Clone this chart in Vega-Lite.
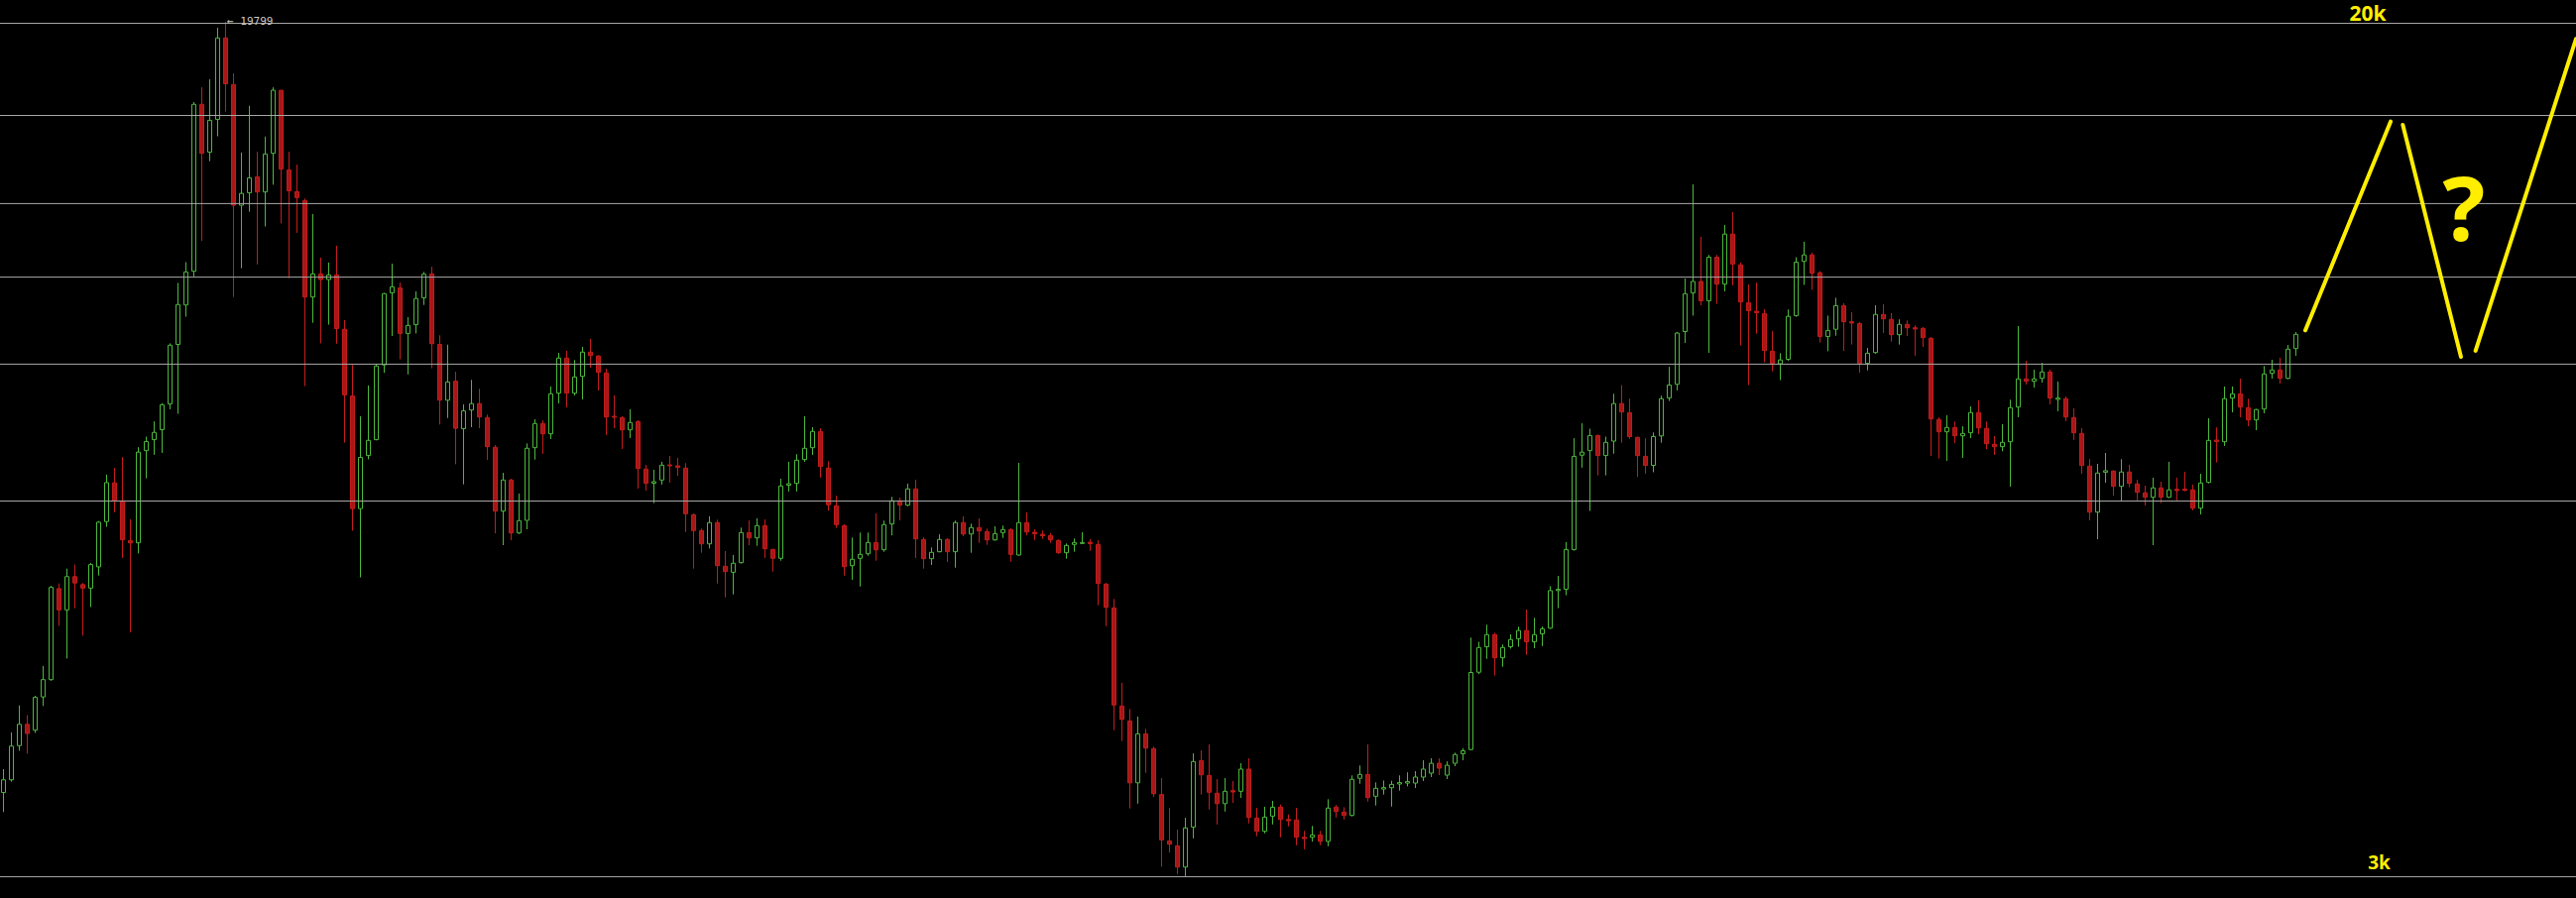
{
  "$schema": "https://vega.github.io/schema/vega-lite/v6.json",
  "width": 2598,
  "height": 906,
  "autosize": {"type": "none"},
  "padding": 0,
  "background": "#000000",
  "config": {"view": {"stroke": null}, "axis": {"disable": true}, "scale": {"continuousPadding": 0}},
  "datasets": {
    "candles": [
      {"t":0,"o":3741,"h":3935,"l":3586,"c":3845},{"t":1,"o":3845,"h":4260,"l":3830,"c":4136},{"t":2,"o":4140,"h":4516,"l":4094,"c":4335},{"t":3,"o":4335,"h":4422,"l":4069,"c":4250},{"t":4,"o":4281,"h":4611,"l":4255,"c":4595},
      {"t":5,"o":4600,"h":4918,"l":4510,"c":4775},{"t":6,"o":4775,"h":5849,"l":4763,"c":5828},{"t":7,"o":5813,"h":5878,"l":5364,"c":5552},{"t":8,"o":5552,"h":6070,"l":4998,"c":5966},{"t":9,"o":5966,"h":6123,"l":5573,"c":5885},
      {"t":10,"o":5864,"h":5885,"l":5251,"c":5820},{"t":11,"o":5820,"h":6146,"l":5586,"c":6123},{"t":12,"o":6093,"h":6728,"l":5980,"c":6711},{"t":13,"o":6720,"h":7438,"l":6645,"c":7310},{"t":14,"o":7307,"h":7549,"l":6854,"c":7034},
      {"t":15,"o":7014,"h":7725,"l":6211,"c":6461},{"t":16,"o":6449,"h":6754,"l":5289,"c":6418},{"t":17,"o":6418,"h":7893,"l":6273,"c":7809},{"t":18,"o":7834,"h":8075,"l":7379,"c":7990},{"t":19,"o":8022,"h":8345,"l":7763,"c":8149},
      {"t":20,"o":8196,"h":8681,"l":7795,"c":8651},{"t":21,"o":8666,"h":9880,"l":8566,"c":9840},{"t":22,"o":9857,"h":11258,"l":8484,"c":10744},{"t":23,"o":10734,"h":11776,"l":10464,"c":11529},{"t":24,"o":11546,"h":16646,"l":11416,"c":16564},
      {"t":25,"o":16564,"h":17185,"l":12328,"c":14900},{"t":26,"o":14938,"h":17486,"l":14647,"c":16001},{"t":27,"o":16029,"h":19547,"l":15459,"c":19120},{"t":28,"o":19120,"h":19799,"l":16307,"c":17315},{"t":29,"o":17286,"h":17717,"l":10920,"c":13317},
      {"t":30,"o":13317,"h":14926,"l":11622,"c":13662},{"t":31,"o":13682,"h":16511,"l":13133,"c":14128},{"t":32,"o":14162,"h":14951,"l":11718,"c":13706},{"t":33,"o":13706,"h":15449,"l":12720,"c":14878},{"t":34,"o":14900,"h":17185,"l":13922,"c":17075},
      {"t":35,"o":17075,"h":17075,"l":12803,"c":14398},{"t":36,"o":14373,"h":14951,"l":11376,"c":13738},{"t":37,"o":13717,"h":14541,"l":12545,"c":13539},{"t":38,"o":13449,"h":13515,"l":9006,"c":10920},{"t":39,"o":10920,"h":13069,"l":10328,"c":11480},
      {"t":40,"o":11480,"h":11892,"l":9880,"c":11340},{"t":41,"o":11340,"h":11766,"l":10286,"c":11453},{"t":42,"o":11453,"h":12200,"l":9872,"c":10200},{"t":43,"o":10185,"h":10388,"l":7971,"c":8838},{"t":44,"o":8816,"h":9430,"l":6589,"c":6911},
      {"t":45,"o":6911,"h":8440,"l":5956,"c":7719},{"t":46,"o":7752,"h":9019,"l":7688,"c":8010},{"t":47,"o":8022,"h":9454,"l":8010,"c":9407},{"t":48,"o":9430,"h":11019,"l":9269,"c":11000},{"t":49,"o":11019,"h":11738,"l":10036,"c":11164},
      {"t":50,"o":11137,"h":11265,"l":9545,"c":10094},{"t":51,"o":10094,"h":10455,"l":9237,"c":10269},{"t":52,"o":10286,"h":11055,"l":10094,"c":10885},{"t":53,"o":10901,"h":11529,"l":10734,"c":11472},{"t":54,"o":11480,"h":11660,"l":9361,"c":9872},
      {"t":55,"o":9857,"h":10053,"l":8289,"c":8737},{"t":56,"o":8737,"h":9851,"l":8406,"c":9088},{"t":57,"o":9103,"h":9291,"l":7607,"c":8222},{"t":58,"o":8215,"h":8658,"l":7283,"c":8539},{"t":59,"o":8553,"h":9129,"l":8242,"c":8672},
      {"t":60,"o":8672,"h":8954,"l":8224,"c":8425},{"t":61,"o":8415,"h":8469,"l":7679,"c":7901},{"t":62,"o":7891,"h":7930,"l":6552,"c":6874},{"t":63,"o":6874,"h":7468,"l":6386,"c":7352},{"t":64,"o":7352,"h":7373,"l":6455,"c":6557},
      {"t":65,"o":6557,"h":7140,"l":6542,"c":6734},{"t":66,"o":6738,"h":7959,"l":6609,"c":7874},{"t":67,"o":7884,"h":8384,"l":7684,"c":8307},{"t":68,"o":8307,"h":8366,"l":7779,"c":8124},{"t":69,"o":8124,"h":8998,"l":8033,"c":8859},
      {"t":70,"o":8871,"h":9679,"l":8677,"c":9570},{"t":71,"o":9570,"h":9721,"l":8603,"c":8871},{"t":72,"o":8871,"h":9529,"l":8827,"c":9187},{"t":73,"o":9199,"h":9804,"l":8752,"c":9694},{"t":74,"o":9694,"h":9974,"l":9373,"c":9623},
      {"t":75,"o":9611,"h":9631,"l":8922,"c":9279},{"t":76,"o":9267,"h":9353,"l":8102,"c":8425},{"t":77,"o":8438,"h":8827,"l":8224,"c":8420},{"t":78,"o":8415,"h":8438,"l":7863,"c":8194},{"t":79,"o":8194,"h":8566,"l":8050,"c":8325},
      {"t":80,"o":8343,"h":8366,"l":7217,"c":7538},{"t":81,"o":7528,"h":7597,"l":7186,"c":7299},{"t":82,"o":7302,"h":7517,"l":6993,"c":7326},{"t":83,"o":7352,"h":7647,"l":7279,"c":7592},{"t":84,"o":7597,"h":7745,"l":7310,"c":7581},
      {"t":85,"o":7581,"h":7712,"l":7420,"c":7554},{"t":86,"o":7544,"h":7625,"l":6571,"c":6835},{"t":87,"o":6820,"h":6840,"l":6070,"c":6591},{"t":88,"o":6591,"h":6619,"l":6282,"c":6404},{"t":89,"o":6404,"h":6796,"l":6341,"c":6705},
      {"t":90,"o":6705,"h":6748,"l":5878,"c":6109},{"t":91,"o":6101,"h":6305,"l":5704,"c":6031},{"t":92,"o":6023,"h":6251,"l":5741,"c":6141},{"t":93,"o":6149,"h":6633,"l":6136,"c":6562},{"t":94,"o":6562,"h":6738,"l":6386,"c":6487},
      {"t":95,"o":6487,"h":6767,"l":6377,"c":6662},{"t":96,"o":6662,"h":6752,"l":6211,"c":6336},{"t":97,"o":6328,"h":6332,"l":6031,"c":6207},{"t":98,"o":6207,"h":7373,"l":6175,"c":7258},{"t":99,"o":7271,"h":7647,"l":7171,"c":7294},
      {"t":100,"o":7299,"h":7774,"l":7171,"c":7674},{"t":101,"o":7684,"h":8438,"l":7647,"c":7874},{"t":102,"o":7884,"h":8242,"l":7762,"c":8166},{"t":103,"o":8166,"h":8224,"l":7389,"c":7570},{"t":104,"o":7544,"h":7658,"l":6880,"c":6969},
      {"t":105,"o":6954,"h":7109,"l":6628,"c":6676},{"t":106,"o":6662,"h":6681,"l":5979,"c":6096},{"t":107,"o":6109,"h":6492,"l":5925,"c":6194},{"t":108,"o":6207,"h":6562,"l":5840,"c":6260},{"t":109,"o":6268,"h":6562,"l":6242,"c":6423},
      {"t":110,"o":6423,"h":6840,"l":6175,"c":6323},{"t":111,"o":6323,"h":6734,"l":6296,"c":6676},{"t":112,"o":6685,"h":7089,"l":6524,"c":7029},{"t":113,"o":7029,"h":7079,"l":6738,"c":6963},{"t":114,"o":6963,"h":7294,"l":6948,"c":7212},
      {"t":115,"o":7212,"h":7357,"l":6211,"c":6473},{"t":116,"o":6465,"h":6496,"l":6070,"c":6202},{"t":117,"o":6202,"h":6355,"l":6118,"c":6287},{"t":118,"o":6296,"h":6538,"l":6287,"c":6465},{"t":119,"o":6465,"h":6483,"l":6158,"c":6296},
      {"t":120,"o":6296,"h":6734,"l":6083,"c":6705},{"t":121,"o":6705,"h":6796,"l":6510,"c":6542},{"t":122,"o":6542,"h":6690,"l":6282,"c":6633},{"t":123,"o":6633,"h":6767,"l":6418,"c":6585},{"t":124,"o":6576,"h":6619,"l":6390,"c":6459},
      {"t":125,"o":6459,"h":6652,"l":6448,"c":6548},{"t":126,"o":6562,"h":6662,"l":6487,"c":6605},{"t":127,"o":6605,"h":6623,"l":6162,"c":6260},{"t":128,"o":6251,"h":7630,"l":6242,"c":6705},{"t":129,"o":6705,"h":6854,"l":6524,"c":6571},
      {"t":130,"o":6567,"h":6609,"l":6459,"c":6545},{"t":131,"o":6538,"h":6591,"l":6473,"c":6517},{"t":132,"o":6520,"h":6557,"l":6418,"c":6459},{"t":133,"o":6451,"h":6465,"l":6268,"c":6282},{"t":134,"o":6282,"h":6409,"l":6202,"c":6382},
      {"t":135,"o":6396,"h":6478,"l":6296,"c":6423},{"t":136,"o":6409,"h":6567,"l":6400,"c":6423},{"t":137,"o":6427,"h":6469,"l":6309,"c":6407},{"t":138,"o":6396,"h":6455,"l":5607,"c":5878},{"t":139,"o":5870,"h":5886,"l":5361,"c":5583},
      {"t":140,"o":5576,"h":5685,"l":4280,"c":4520},{"t":141,"o":4510,"h":4741,"l":4181,"c":4382},{"t":142,"o":4367,"h":4481,"l":3614,"c":3820},{"t":143,"o":3820,"h":4408,"l":3652,"c":4247},{"t":144,"o":4247,"h":4293,"l":3904,"c":4118},
      {"t":145,"o":4113,"h":4131,"l":3705,"c":3731},{"t":146,"o":3724,"h":3860,"l":3187,"c":3377},{"t":147,"o":3369,"h":3619,"l":3286,"c":3345},{"t":148,"o":3334,"h":3452,"l":3137,"c":3184},{"t":149,"o":3184,"h":3542,"l":3119,"c":3465},
      {"t":150,"o":3472,"h":4071,"l":3388,"c":4000},{"t":151,"o":4008,"h":4098,"l":3724,"c":3887},{"t":152,"o":3882,"h":4151,"l":3606,"c":3743},{"t":153,"o":3735,"h":3851,"l":3491,"c":3652},{"t":154,"o":3652,"h":3860,"l":3590,"c":3751},
      {"t":155,"o":3756,"h":3835,"l":3658,"c":3745},{"t":156,"o":3751,"h":3985,"l":3698,"c":3935},{"t":157,"o":3935,"h":4028,"l":3499,"c":3544},{"t":158,"o":3540,"h":3619,"l":3403,"c":3440},{"t":159,"o":3440,"h":3627,"l":3425,"c":3547},
      {"t":160,"o":3555,"h":3674,"l":3491,"c":3624},{"t":161,"o":3624,"h":3645,"l":3396,"c":3529},{"t":162,"o":3529,"h":3567,"l":3477,"c":3519},{"t":163,"o":3525,"h":3619,"l":3338,"c":3396},{"t":164,"o":3396,"h":3443,"l":3309,"c":3386},
      {"t":165,"o":3396,"h":3480,"l":3364,"c":3413},{"t":166,"o":3413,"h":3443,"l":3338,"c":3366},{"t":167,"o":3366,"h":3687,"l":3331,"c":3617},{"t":168,"o":3624,"h":3642,"l":3544,"c":3590},{"t":169,"o":3586,"h":3624,"l":3529,"c":3560},
      {"t":170,"o":3560,"h":3882,"l":3553,"c":3849},{"t":171,"o":3858,"h":3966,"l":3812,"c":3890},{"t":172,"o":3890,"h":4151,"l":3668,"c":3700},{"t":173,"o":3711,"h":3824,"l":3637,"c":3775},{"t":174,"o":3769,"h":3839,"l":3724,"c":3781},
      {"t":175,"o":3780,"h":3837,"l":3629,"c":3807},{"t":176,"o":3810,"h":3882,"l":3756,"c":3822},{"t":177,"o":3818,"h":3908,"l":3791,"c":3830},{"t":178,"o":3818,"h":3918,"l":3778,"c":3868},{"t":179,"o":3868,"h":4011,"l":3835,"c":3935},
      {"t":180,"o":3901,"h":4028,"l":3868,"c":3985},{"t":181,"o":3985,"h":4028,"l":3884,"c":3943},{"t":182,"o":3884,"h":4002,"l":3851,"c":3968},{"t":183,"o":3985,"h":4077,"l":3960,"c":4061},{"t":184,"o":4068,"h":4118,"l":4011,"c":4094},
      {"t":185,"o":4105,"h":5229,"l":4098,"c":4849},{"t":186,"o":4852,"h":5182,"l":4832,"c":5118},{"t":187,"o":5127,"h":5377,"l":4994,"c":5263},{"t":188,"o":5263,"h":5284,"l":4817,"c":5006},{"t":189,"o":5006,"h":5152,"l":4909,"c":5118},
      {"t":190,"o":5127,"h":5267,"l":5106,"c":5207},{"t":191,"o":5216,"h":5354,"l":5127,"c":5310},{"t":192,"o":5310,"h":5556,"l":5038,"c":5182},{"t":193,"o":5182,"h":5457,"l":5110,"c":5263},{"t":194,"o":5272,"h":5355,"l":5134,"c":5329},
      {"t":195,"o":5337,"h":5845,"l":5329,"c":5788},{"t":196,"o":5789,"h":5975,"l":5573,"c":5805},{"t":197,"o":5806,"h":6429,"l":5731,"c":6324},{"t":198,"o":6324,"h":8048,"l":6312,"c":7738},{"t":199,"o":7757,"h":8311,"l":7550,"c":7809},
      {"t":200,"o":7834,"h":8215,"l":6877,"c":8094},{"t":201,"o":8094,"h":8111,"l":7426,"c":7752},{"t":202,"o":7752,"h":8075,"l":7426,"c":7976},{"t":203,"o":7997,"h":8859,"l":7782,"c":8673},{"t":204,"o":8673,"h":9027,"l":7969,"c":8517},
      {"t":205,"o":8504,"h":8765,"l":8036,"c":8075},{"t":206,"o":8062,"h":8075,"l":7403,"c":7750},{"t":207,"o":7738,"h":8048,"l":7452,"c":7588},{"t":208,"o":7588,"h":8149,"l":7476,"c":8075},{"t":209,"o":8087,"h":8823,"l":7969,"c":8765},
      {"t":210,"o":8780,"h":9391,"l":8722,"c":9027},{"t":211,"o":9043,"h":10127,"l":8924,"c":10101},{"t":212,"o":10135,"h":11367,"l":9889,"c":11000},{"t":213,"o":11019,"h":13931,"l":10489,"c":11294},{"t":214,"o":11294,"h":12440,"l":10725,"c":10832},
      {"t":215,"o":10832,"h":11961,"l":9679,"c":11902},{"t":216,"o":11902,"h":11961,"l":10760,"c":11229},{"t":217,"o":11229,"h":12762,"l":11055,"c":12512},{"t":218,"o":12512,"h":13122,"l":11201,"c":11727},{"t":219,"o":11707,"h":11766,"l":9832,"c":10804},
      {"t":220,"o":10786,"h":11220,"l":9027,"c":10602},{"t":221,"o":10590,"h":11264,"l":10086,"c":10557},{"t":222,"o":10532,"h":10636,"l":9484,"c":9727},{"t":223,"o":9713,"h":10142,"l":9299,"c":9452},{"t":224,"o":9452,"h":9671,"l":9125,"c":9531},
      {"t":225,"o":9545,"h":10629,"l":9515,"c":10473},{"t":226,"o":10489,"h":11902,"l":10464,"c":11776},{"t":227,"o":11796,"h":12307,"l":11210,"c":11961},{"t":228,"o":11961,"h":12021,"l":11092,"c":11499},{"t":229,"o":11509,"h":11546,"l":9897,"c":10027},
      {"t":230,"o":10027,"h":10489,"l":9713,"c":10159},{"t":231,"o":10185,"h":10901,"l":10042,"c":10716},{"t":232,"o":10716,"h":10778,"l":9719,"c":10353},{"t":233,"o":10351,"h":10568,"l":9855,"c":10322},{"t":234,"o":10311,"h":10344,"l":9275,"c":9452},
      {"t":235,"o":9460,"h":9783,"l":9319,"c":9671},{"t":236,"o":9685,"h":10727,"l":9658,"c":10516},{"t":237,"o":10516,"h":10750,"l":10103,"c":10417},{"t":238,"o":10404,"h":10545,"l":9916,"c":10066},{"t":239,"o":10066,"h":10404,"l":9853,"c":10293},
      {"t":240,"o":10293,"h":10382,"l":10038,"c":10218},{"t":241,"o":10218,"h":10271,"l":9617,"c":10190},{"t":242,"o":10205,"h":10233,"l":9804,"c":10001},{"t":243,"o":9988,"h":10016,"l":7745,"c":8390},{"t":244,"o":8379,"h":8420,"l":7701,"c":8159},
      {"t":245,"o":8159,"h":8456,"l":7663,"c":8236},{"t":246,"o":8236,"h":8343,"l":7964,"c":8089},{"t":247,"o":8089,"h":8259,"l":7712,"c":8131},{"t":248,"o":8142,"h":8621,"l":8050,"c":8506},{"t":249,"o":8506,"h":8733,"l":8119,"c":8229},
      {"t":250,"o":8219,"h":8343,"l":7858,"c":7952},{"t":251,"o":7942,"h":8084,"l":7762,"c":7901},{"t":252,"o":7901,"h":8295,"l":7824,"c":7976},{"t":253,"o":7986,"h":8746,"l":7248,"c":8597},{"t":254,"o":8608,"h":10255,"l":8420,"c":9148},
      {"t":255,"o":9148,"h":9515,"l":9036,"c":9101},{"t":256,"o":9101,"h":9333,"l":8979,"c":9148},{"t":257,"o":9160,"h":9474,"l":9076,"c":9287},{"t":258,"o":9287,"h":9333,"l":8658,"c":8776},{"t":259,"o":8752,"h":9096,"l":8530,"c":8776},
      {"t":260,"o":8765,"h":8808,"l":8348,"c":8425},{"t":261,"o":8415,"h":8584,"l":8016,"c":8142},{"t":262,"o":8131,"h":8224,"l":7452,"c":7586},{"t":263,"o":7576,"h":7691,"l":6738,"c":6859},{"t":264,"o":6859,"h":7614,"l":6469,"c":7464},
      {"t":265,"o":7477,"h":7795,"l":7310,"c":7501},{"t":266,"o":7496,"h":7508,"l":7109,"c":7252},{"t":267,"o":7252,"h":7691,"l":7023,"c":7480},{"t":268,"o":7480,"h":7597,"l":7237,"c":7299},{"t":269,"o":7290,"h":7357,"l":7034,"c":7160},
      {"t":270,"o":7151,"h":7263,"l":6958,"c":7083},{"t":271,"o":7083,"h":7389,"l":6386,"c":7228},{"t":272,"o":7228,"h":7326,"l":6993,"c":7083},{"t":273,"o":7083,"h":7647,"l":7071,"c":7197},{"t":274,"o":7206,"h":7389,"l":7034,"c":7186},
      {"t":275,"o":7209,"h":7485,"l":7175,"c":7189},{"t":276,"o":7197,"h":7279,"l":6884,"c":6918},{"t":277,"o":6918,"h":7452,"l":6825,"c":7305},{"t":278,"o":7315,"h":8402,"l":7299,"c":8010},{"t":279,"o":8016,"h":8236,"l":7636,"c":7990},
      {"t":280,"o":7986,"h":8998,"l":7913,"c":8765},{"t":281,"o":8776,"h":8998,"l":8511,"c":8859},{"t":282,"o":8859,"h":9154,"l":8420,"c":8608},{"t":283,"o":8597,"h":8765,"l":8259,"c":8372},{"t":284,"o":8372,"h":8575,"l":8189,"c":8561},
      {"t":285,"o":8572,"h":9407,"l":8493,"c":9247},{"t":286,"o":9259,"h":9535,"l":9154,"c":9327},{"t":287,"o":9327,"h":9576,"l":9057,"c":9160},{"t":288,"o":9160,"h":9846,"l":9140,"c":9756},{"t":289,"o":9768,"h":10124,"l":9617,"c":10074}
    ],
    "levels": [{"level":19735},{"level":16170},{"level":13365},{"level":11400},{"level":9445},{"level":7025},{"level":3118}],
    "zigzag": [
      {"seg":"a","t":290.19,"price":10161},{"seg":"a","t":300.94,"price":15957},
      {"seg":"b","t":302.48,"price":15845},{"seg":"b","t":309.81,"price":9596},
      {"seg":"c","t":311.65,"price":9721},{"seg":"c","t":324.31,"price":19079}
    ]
  },
  "layer": [
    {
      "data": {"name": "candles"},
      "mark": {"type": "rule", "strokeWidth": 1},
      "encoding": {
        "x": {"field": "t", "type": "quantitative", "scale": {"type": "linear", "domain": [-0.4375, 324.3125], "nice": false, "zero": false, "padding": 0}, "axis": null},
        "y": {"field": "l", "type": "quantitative", "scale": {"type": "log", "domain": [2978, 20755], "nice": false}, "axis": null},
        "y2": {"field": "h"},
        "color": {"condition": {"test": "datum.c >= datum.o", "value": "#4cb83c"}, "value": "#c41c1c"}
      }
    },
    {
      "data": {"name": "candles"},
      "mark": {"type": "bar", "width": 4, "strokeWidth": 1, "opacity": 1},
      "encoding": {
        "x": {"field": "t", "type": "quantitative", "scale": {"type": "linear", "domain": [-0.4375, 324.3125], "nice": false, "zero": false, "padding": 0}, "axis": null},
        "y": {"field": "o", "type": "quantitative", "scale": {"type": "log", "domain": [2978, 20755], "nice": false}, "axis": null},
        "y2": {"field": "c"},
        "fill": {"condition": {"test": "datum.c >= datum.o", "value": "#000000"}, "value": "#a81616"},
        "stroke": {"condition": {"test": "datum.c >= datum.o", "value": "#4cb83c"}, "value": "#c41c1c"}
      }
    },
    {
      "data": {"name": "levels"},
      "mark": {"type": "rule", "color": "#a8a8a8", "strokeWidth": 1},
      "encoding": {
        "y": {"field": "level", "type": "quantitative", "scale": {"type": "log", "domain": [2978, 20755], "nice": false}, "axis": null}
      }
    },
    {
      "data": {"name": "zigzag"},
      "mark": {"type": "line", "color": "#ffee00", "strokeWidth": 4, "strokeCap": "round"},
      "encoding": {
        "x": {"field": "t", "type": "quantitative", "scale": {"type": "linear", "domain": [-0.4375, 324.3125], "nice": false, "zero": false, "padding": 0}, "axis": null},
        "y": {"field": "price", "type": "quantitative", "scale": {"type": "log", "domain": [2978, 20755], "nice": false}, "axis": null},
        "detail": {"field": "seg", "type": "nominal"}
      }
    },
    {
      "data": {"values": [{"t": 310.19, "price": 12331, "label": "?"}]},
      "mark": {"type": "text", "font": "Open Sans", "fontWeight": "bold", "fontSize": 90, "color": "#ffee00", "align": "center", "baseline": "alphabetic"},
      "encoding": {
        "x": {"field": "t", "type": "quantitative", "scale": {"type": "linear", "domain": [-0.4375, 324.3125], "nice": false, "zero": false, "padding": 0}, "axis": null},
        "y": {"field": "price", "type": "quantitative", "scale": {"type": "log", "domain": [2978, 20755], "nice": false}, "axis": null},
        "text": {"field": "label"}
      }
    },
    {
      "data": {"values": [{"t": 298.06, "price": 19829, "label": "20k"}]},
      "mark": {"type": "text", "font": "Open Sans", "fontWeight": "bold", "fontSize": 21, "color": "#ffee00", "align": "center", "baseline": "alphabetic"},
      "encoding": {
        "x": {"field": "t", "type": "quantitative", "scale": {"type": "linear", "domain": [-0.4375, 324.3125], "nice": false, "zero": false, "padding": 0}, "axis": null},
        "y": {"field": "price", "type": "quantitative", "scale": {"type": "log", "domain": [2978, 20755], "nice": false}, "axis": null},
        "text": {"field": "label"}
      }
    },
    {
      "data": {"values": [{"t": 299.5, "price": 3166, "label": "3k"}]},
      "mark": {"type": "text", "font": "Open Sans", "fontWeight": "bold", "fontSize": 19, "color": "#ffee00", "align": "center", "baseline": "alphabetic"},
      "encoding": {
        "x": {"field": "t", "type": "quantitative", "scale": {"type": "linear", "domain": [-0.4375, 324.3125], "nice": false, "zero": false, "padding": 0}, "axis": null},
        "y": {"field": "price", "type": "quantitative", "scale": {"type": "log", "domain": [2978, 20755], "nice": false}, "axis": null},
        "text": {"field": "label"}
      }
    },
    {
      "data": {"values": [{"t": 28.19, "price": 19661, "label": "← 19799"}]},
      "mark": {"type": "text", "font": "DejaVu Sans Mono", "fontSize": 11, "color": "#c8c8c8", "align": "left", "baseline": "alphabetic"},
      "encoding": {
        "x": {"field": "t", "type": "quantitative", "scale": {"type": "linear", "domain": [-0.4375, 324.3125], "nice": false, "zero": false, "padding": 0}, "axis": null},
        "y": {"field": "price", "type": "quantitative", "scale": {"type": "log", "domain": [2978, 20755], "nice": false}, "axis": null},
        "text": {"field": "label"}
      }
    }
  ]
}
